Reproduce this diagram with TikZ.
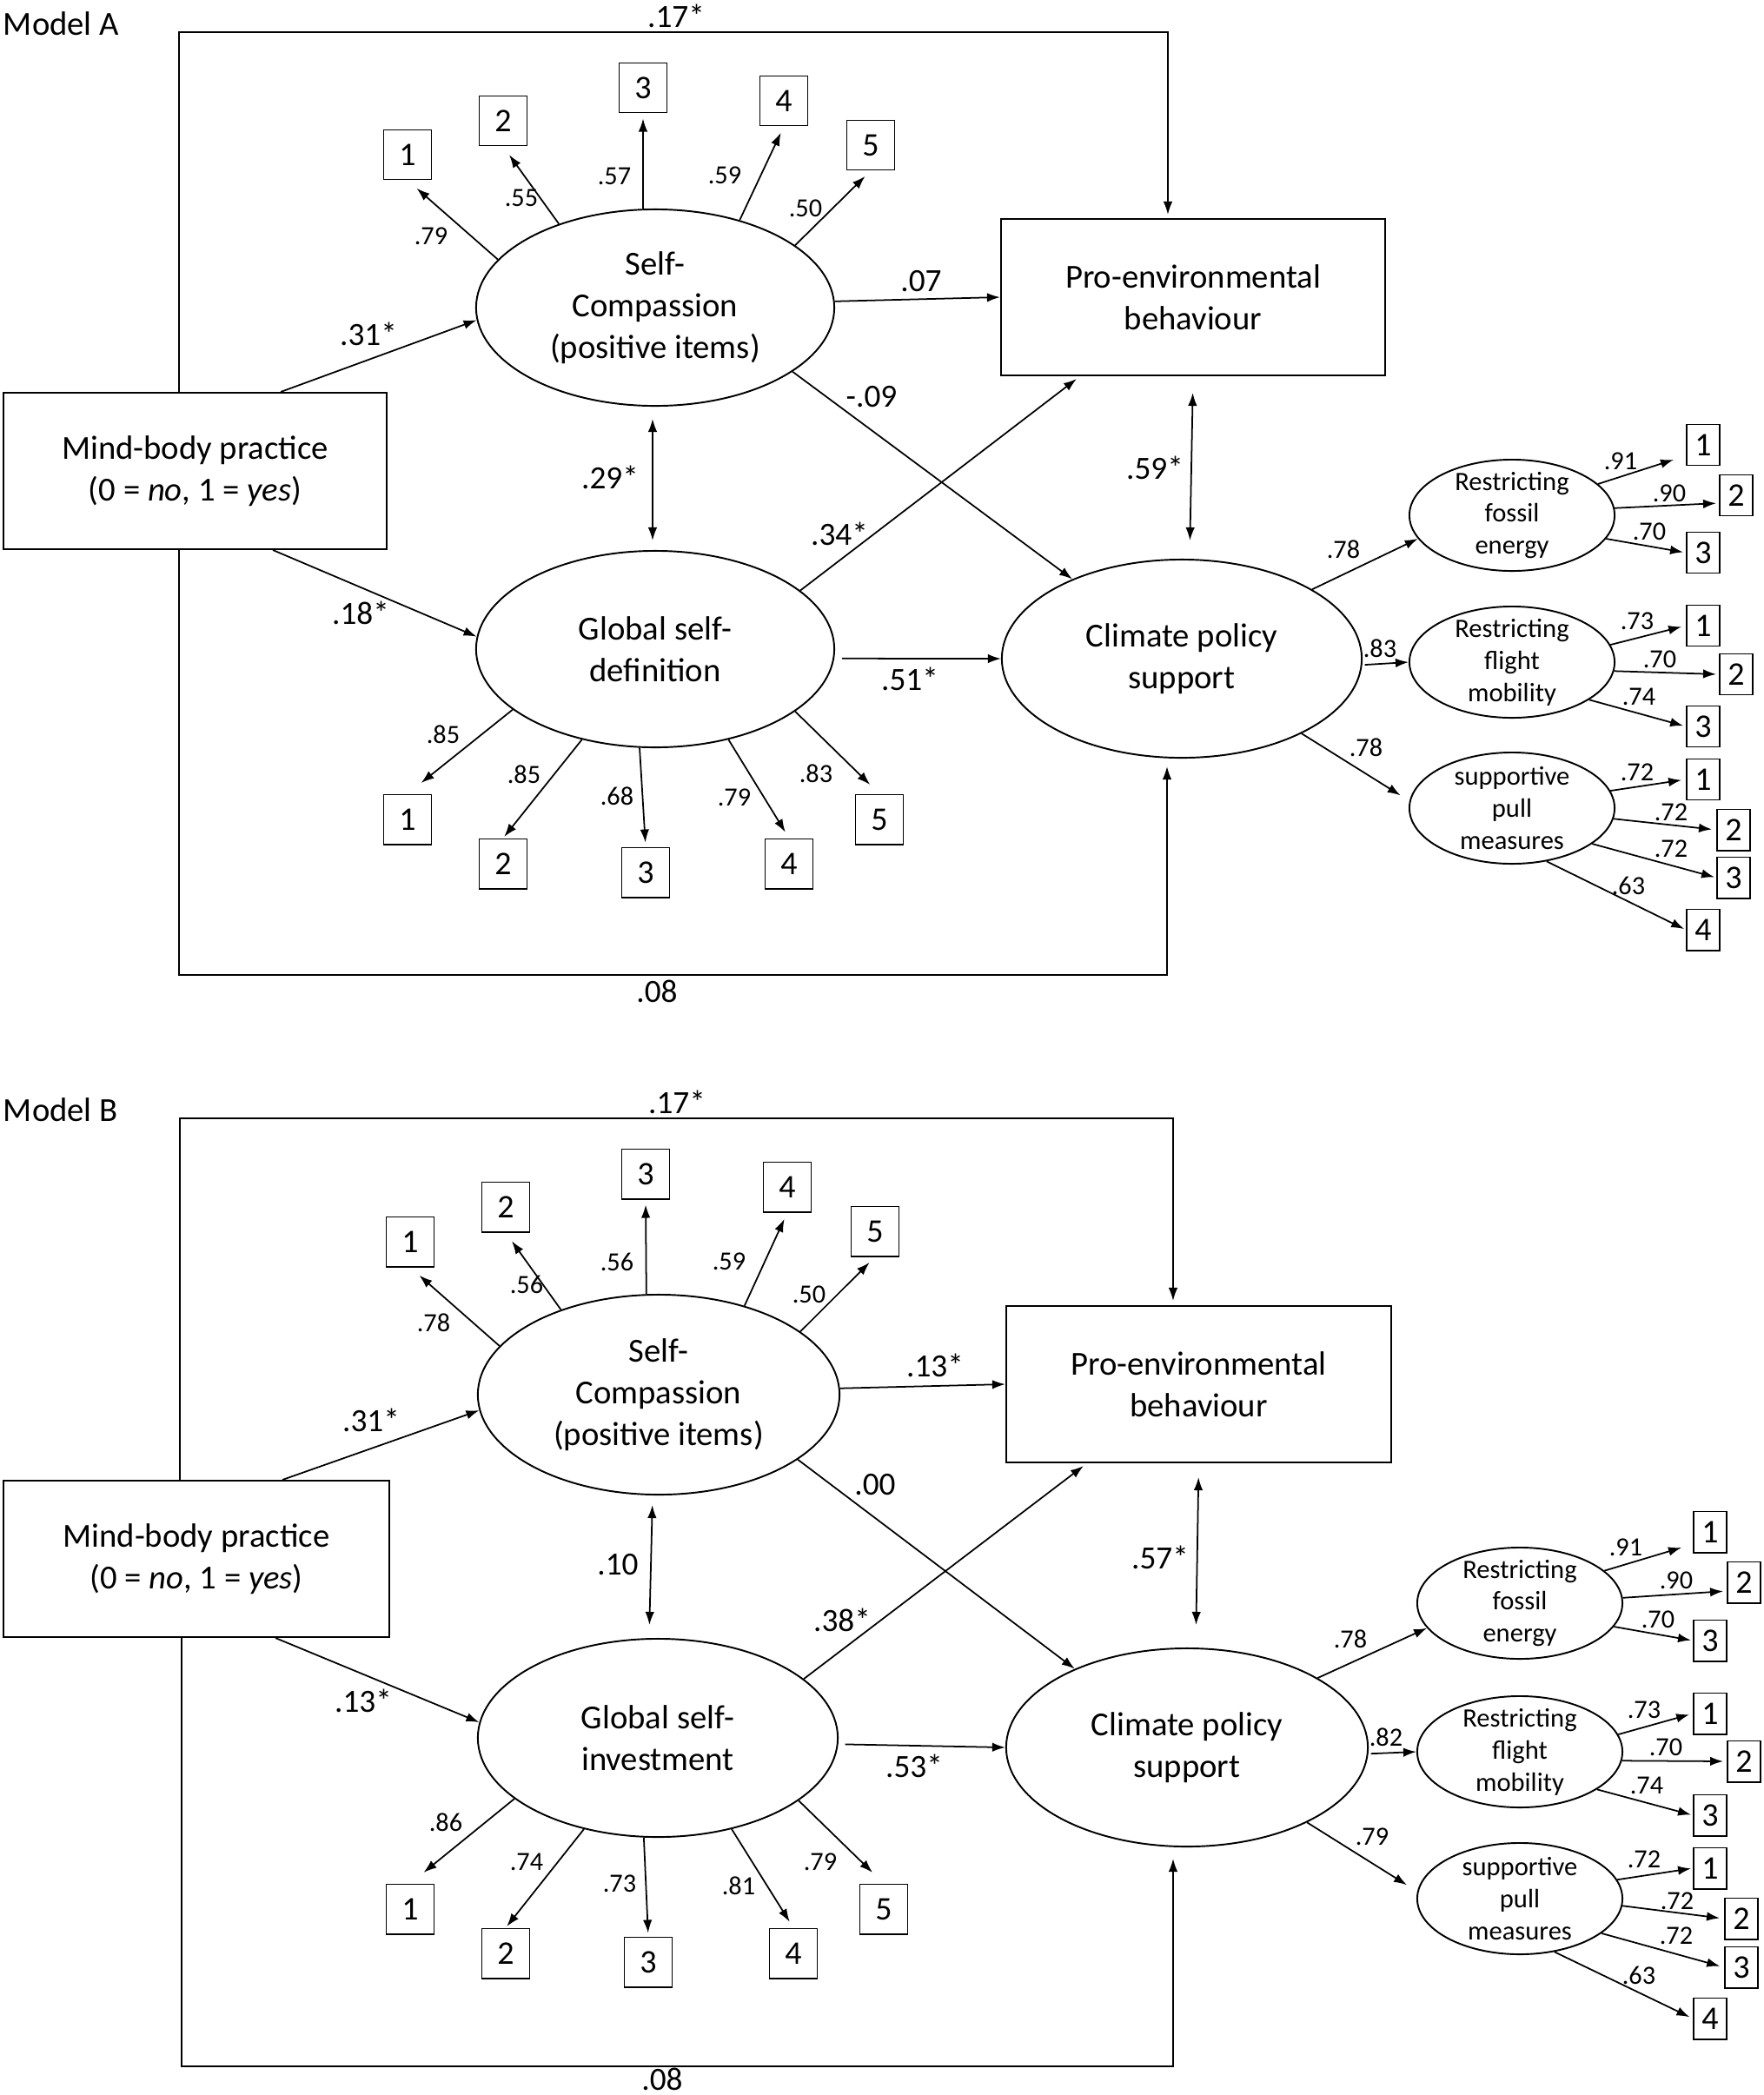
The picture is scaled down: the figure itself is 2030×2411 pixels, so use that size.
\documentclass[tikz,border=0pt]{standalone}
\usepackage{fontspec}
\setmainfont{Carlito}
\usetikzlibrary{arrows.meta,shapes.geometric,calc}
\newcommand{\fntmain}{\fontsize{11}{13.7}\selectfont}
\newcommand{\fntpath}{\fontsize{10.6}{12}\selectfont}
\newcommand{\fntload}{\fontsize{8.6}{10}\selectfont}
\newcommand{\fntitem}{\fontsize{10.8}{12}\selectfont}
\newcommand{\fntsub}{\fontsize{8.7}{10.5}\selectfont}
\begin{document}
\begin{tikzpicture}[x=0.01cm,y=-0.01cm,line width=0.55pt,
  conn/.style={-{Latex[length=1.5mm,width=1.05mm]},line width=0.5pt},
  dconn/.style={{Latex[length=1.5mm,width=1.05mm]}-{Latex[length=1.5mm,width=1.05mm]},line width=0.5pt},
  bigbox/.style={draw,rectangle,inner sep=0pt,align=center,font=\fntmain},
  latent/.style={draw,ellipse,inner sep=0pt,align=center,font=\fntmain},
  slat/.style={draw,ellipse,inner sep=-0.12cm,align=center,font=\fntsub,minimum width=2.36cm,minimum height=1.28cm},
  itm/.style={draw,rectangle,inner sep=0pt,minimum width=0.55cm,minimum height=0.57cm,font=\fntitem},
  sitm/.style={draw,rectangle,inner sep=0pt,minimum width=0.38cm,minimum height=0.47cm,font=\fntitem},
  plab/.style={inner sep=0pt,font=\fntpath},
  llab/.style={inner sep=0pt,font=\fntload},
  title/.style={inner sep=0pt,anchor=west,font=\fntmain}]
\useasboundingbox (0,0) rectangle (2030,2411);

% ================= MODEL A =================
\node[title] (ma) at (3,27) {Model A};
\node[bigbox,minimum width=4.41cm,minimum height=1.80cm] (a-mb) at (224.5,542) {Mind-body practice\\(0 = \textit{no}, 1 = \textit{yes})};
\node[latent,minimum width=4.12cm,minimum height=2.26cm] (a-sc) at (754,354) {Self-\\Compassion\\(positive items)};
\node[latent,minimum width=4.12cm,minimum height=2.26cm] (a-gd) at (754,747) {Global self-\\definition};
\node[bigbox,minimum width=4.42cm,minimum height=1.80cm] (a-peb) at (1373,342) {Pro-environmental\\behaviour};
\node[latent,minimum width=4.14cm,minimum height=2.28cm] (a-cps) at (1360,758) {Climate policy\\support};
\node[slat] (a-rfe) at (1740,593) {Restricting\\fossil\\energy};
\node[slat] (a-rfm) at (1740,762) {Restricting\\flight\\mobility};
\node[slat] (a-spm) at (1740,930) {supportive\\pull\\measures};

\node[itm] (a-s1) at (469,178) {1};
\node[itm] (a-s2) at (579,139) {2};
\node[itm] (a-s3) at (740,101) {3};
\node[itm] (a-s4) at (902,116) {4};
\node[itm] (a-s5) at (1002,167) {5};
\node[itm] (a-g1) at (469,943) {1};
\node[itm] (a-g2) at (579,994) {2};
\node[itm] (a-g3) at (743,1004) {3};
\node[itm] (a-g4) at (908,994) {4};
\node[itm] (a-g5) at (1012,943) {5};

\node[sitm] (a-r1) at (1960,512) {1};
\node[sitm] (a-r2) at (1998,570) {2};
\node[sitm] (a-r3) at (1960,636) {3};
\node[sitm] (a-m1) at (1960,720) {1};
\node[sitm] (a-m2) at (1998,776) {2};
\node[sitm] (a-m3) at (1960,836) {3};
\node[sitm] (a-p1) at (1960,897) {1};
\node[sitm] (a-p2) at (1995,955) {2};
\node[sitm] (a-p3) at (1995,1010) {3};
\node[sitm] (a-p4) at (1960,1070) {4};

% structural paths A
\draw[conn] ([xshift=0.985cm]a-mb.north) -- (a-sc.184);
\draw[conn] ([xshift=0.895cm]a-mb.south) -- (a-gd.176);
\draw[conn,shorten >=0.04cm] ([xshift=-0.185cm]a-mb.north) -- ++(0,-414) -| ([xshift=-0.29cm]a-peb.north);
\draw[conn,shorten >=0.09cm] ([xshift=-0.185cm]a-mb.south) -- ++(0,489) -| ([xshift=-0.17cm]a-cps.south);
\draw[conn] (a-sc.2) -- (a-peb.west);
\draw[dconn,shorten <=0.14cm,shorten >=0.11cm] ([xshift=-0.03cm]a-sc.south) -- ([xshift=-0.03cm]a-gd.north);
\draw[conn] (a-sc.335) -- (a-cps.144);
\draw[conn,shorten >=0.05cm] (a-gd.22) -- ([xshift=-1.3cm]a-peb.south);
\draw[conn,shorten <=0.09cm] (a-gd.-3) -- (a-cps.west);
\draw[dconn,shorten <=0.19cm,shorten >=0.21cm] (a-peb.south) -- ([xshift=0.09cm]a-cps.north);

% loadings A (left)
\draw[conn,shorten >=0.14cm] (a-sc.163) -- (a-s1.south);
\draw[conn,shorten >=0.12cm] (a-sc.139) -- (a-s2.south);
\draw[conn,shorten >=0.06cm] (a-sc.97) -- (a-s3.south);
\draw[conn,shorten >=0.08cm] (a-sc.46) -- (a-s4.south);
\draw[conn,shorten >=0.09cm] (a-sc.24) -- (a-s5.south);
\draw[conn,shorten >=0.2cm] (a-gd.203) -- (a-g1.north);
\draw[conn,shorten >=0.02cm] (a-gd.231) -- (a-g2.north);
\draw[conn,shorten >=0.05cm] (a-gd.261) -- (a-g3.north);
\draw[conn,shorten >=0.08cm] (a-gd.309) -- (a-g4.north);
\draw[conn,shorten >=0.15cm] (a-gd.336) -- (a-g5.north);

% second order A
\draw[conn] (a-cps.28) -- (a-rfe.194);
\draw[conn,shorten <=0.03cm] (a-cps.-2) -- (a-rfm.west);
\draw[conn,shorten >=0.12cm] (a-cps.-32) -- (a-spm.176);
\draw[conn] (a-rfe.20) -- ($(a-r1.west)+(-14,17)$);
\draw[conn,shorten >=0.03cm] (a-rfe.4) -- ([yshift=-0.09cm]a-r2.west);
\draw[conn,shorten >=0.03cm] (a-rfe.-14) -- (a-r3.west);
\draw[conn,shorten >=0.05cm] (a-rfm.10) -- (a-m1.west);
\draw[conn,shorten >=0.03cm] (a-rfm.-5) -- (a-m2.west);
\draw[conn,shorten >=0.03cm] (a-rfm.-26) -- (a-m3.west);
\draw[conn,shorten >=0.05cm] (a-spm.10) -- (a-p1.west);
\draw[conn,shorten >=0.05cm] (a-spm.-6) -- (a-p2.west);
\draw[conn,shorten >=0.02cm] (a-spm.-24) -- (a-p3.west);
\draw[conn,shorten >=0.02cm] (a-spm.-57) -- (a-p4.west);

% labels A
\node[plab] (a-t17) at (778,18) {.17*};
\node[plab] (a-t31) at (424,384) {.31*};
\node[plab] (a-t18) at (415,705) {.18*};
\node[plab] (a-t29) at (702,549) {.29*};
\node[plab] (a-t07) at (1060,324) {.07};
\node[plab] (a-t09) at (1003,457) {-.09};
\node[plab] (a-t34) at (966,614) {.34*};
\node[plab] (a-t51) at (1047,781) {.51*};
\node[plab] (a-t59) at (1329,538) {.59*};
\node[plab] (a-t08) at (756,1141) {.08};

\node[llab] (a-ls1) at (496,272) {.79};
\node[llab] (a-ls2) at (600,228) {.55};
\node[llab] (a-ls3) at (707,203) {.57};
\node[llab] (a-ls4) at (834,202) {.59};
\node[llab] (a-ls5) at (927,240) {.50};
\node[llab] (a-lg1) at (510,845) {.85};
\node[llab] (a-lg2) at (603,891) {.85};
\node[llab] (a-lg3) at (710,916) {.68};
\node[llab] (a-lg4) at (845,918) {.79};
\node[llab] (a-lg5) at (939,890) {.83};
\node[llab] (a-lc1) at (1546,632) {.78};
\node[llab] (a-lc2) at (1588,746) {.83};
\node[llab] (a-lc3) at (1572,860) {.78};
\node[llab] (a-lr1) at (1865,531) {.91};
\node[llab] (a-lr2) at (1921,568) {.90};
\node[llab] (a-lr3) at (1898,612) {.70};
\node[llab] (a-lm1) at (1884,715) {.73};
\node[llab] (a-lm2) at (1910,759) {.70};
\node[llab] (a-lm3) at (1886,802) {.74};
\node[llab] (a-lp1) at (1884,889) {.72};
\node[llab] (a-lp2) at (1923,935) {.72};
\node[llab] (a-lp3) at (1923,977) {.72};
\node[llab] (a-lp4) at (1874,1019) {.63};

% ================= MODEL B =================
\node[title] (mb) at (3,1277) {Model B};
\node[bigbox,minimum width=4.44cm,minimum height=1.80cm] (b-mb) at (226,1794) {Mind-body practice\\(0 = \textit{no}, 1 = \textit{yes})};
\node[latent,minimum width=4.16cm,minimum height=2.30cm] (b-sc) at (758,1605) {Self-\\Compassion\\(positive items)};
\node[latent,minimum width=4.14cm,minimum height=2.28cm] (b-gi) at (757,2000) {Global self-\\investment};
\node[bigbox,minimum width=4.43cm,minimum height=1.80cm] (b-peb) at (1379.5,1593) {Pro-environmental\\behaviour};
\node[latent,minimum width=4.16cm,minimum height=2.28cm] (b-cps) at (1366,2011) {Climate policy\\support};
\node[slat] (b-rfe) at (1749,1845) {Restricting\\fossil\\energy};
\node[slat] (b-rfm) at (1749,2016) {Restricting\\flight\\mobility};
\node[slat] (b-spm) at (1749,2185) {supportive\\pull\\measures};

\node[itm] (b-s1) at (472,1429) {1};
\node[itm] (b-s2) at (582,1389) {2};
\node[itm] (b-s3) at (743,1351) {3};
\node[itm] (b-s4) at (906,1366) {4};
\node[itm] (b-s5) at (1007,1417) {5};
\node[itm] (b-g1) at (472,2197) {1};
\node[itm] (b-g2) at (582,2248) {2};
\node[itm] (b-g3) at (746,2258) {3};
\node[itm] (b-g4) at (913,2248) {4};
\node[itm] (b-g5) at (1017,2197) {5};

\node[sitm] (b-r1) at (1968,1763) {1};
\node[sitm] (b-r2) at (2007,1821) {2};
\node[sitm] (b-r3) at (1968,1888) {3};
\node[sitm] (b-m1) at (1968,1972) {1};
\node[sitm] (b-m2) at (2007,2027) {2};
\node[sitm] (b-m3) at (1968,2089) {3};
\node[sitm] (b-p1) at (1968,2150) {1};
\node[sitm] (b-p2) at (2004,2208) {2};
\node[sitm] (b-p3) at (2004,2264) {3};
\node[sitm] (b-p4) at (1968,2323) {4};

% structural paths B
\draw[conn] ([xshift=0.99cm]b-mb.north) -- (b-sc.185);
\draw[conn] ([xshift=0.91cm]b-mb.south) -- (b-gi.175);
\draw[conn,shorten >=0.05cm] ([xshift=-0.19cm]b-mb.north) -- ++(0,-416) -| ([xshift=-0.295cm]b-peb.north);
\draw[conn,shorten >=0.13cm] ([xshift=-0.17cm]b-mb.south) -- ++(0,493) -| ([xshift=-0.16cm]b-cps.south);
\draw[conn] (b-sc.2) -- (b-peb.west);
\draw[dconn,shorten <=0.11cm,shorten >=0.15cm] ([xshift=-0.07cm]b-sc.south) -- ([xshift=-0.1cm]b-gi.north);
\draw[conn] (b-sc.335) -- (b-cps.145);
\draw[conn,shorten >=0.05cm] (b-gi.22) -- ([xshift=-1.285cm]b-peb.south);
\draw[conn,shorten <=0.08cm] (b-gi.-2) -- (b-cps.west);
\draw[dconn,shorten <=0.16cm,shorten >=0.26cm] (b-peb.south) -- ([xshift=0.1cm]b-cps.north);

% loadings B (left)
\draw[conn,shorten >=0.14cm] (b-sc.163) -- (b-s1.south);
\draw[conn,shorten >=0.12cm] (b-sc.139) -- (b-s2.south);
\draw[conn,shorten >=0.06cm] (b-sc.97) -- (b-s3.south);
\draw[conn,shorten >=0.08cm] (b-sc.46) -- (b-s4.south);
\draw[conn,shorten >=0.09cm] (b-sc.24) -- (b-s5.south);
\draw[conn,shorten >=0.2cm] (b-gi.203) -- (b-g1.north);
\draw[conn,shorten >=0.02cm] (b-gi.231) -- (b-g2.north);
\draw[conn,shorten >=0.04cm] (b-gi.262) -- (b-g3.north);
\draw[conn,shorten >=0.08cm] (b-gi.309) -- (b-g4.north);
\draw[conn,shorten >=0.18cm] (b-gi.336) -- (b-g5.north);

% second order B
\draw[conn] (b-cps.28) -- (b-rfe.195);
\draw[conn,shorten <=0.03cm] (b-cps.-2) -- (b-rfm.west);
\draw[conn,shorten >=0.14cm] (b-cps.-32) -- (b-spm.176);
\draw[conn] (b-rfe.21) -- ($(b-r1.west)+(-13,18)$);
\draw[conn,shorten >=0.04cm] (b-rfe.3) -- ([yshift=-0.1cm]b-r2.west);
\draw[conn,shorten >=0.02cm] (b-rfe.-14) -- (b-r3.west);
\draw[conn,shorten >=0.04cm] (b-rfm.10) -- (b-m1.west);
\draw[conn,shorten >=0.04cm] (b-rfm.-5) -- (b-m2.west);
\draw[conn,shorten >=0.02cm] (b-rfm.-26) -- (b-m3.west);
\draw[conn,shorten >=0.02cm] (b-spm.11) -- (b-p1.west);
\draw[conn,shorten >=0.05cm] (b-spm.-4) -- (b-p2.west);
\draw[conn,shorten >=0.05cm] (b-spm.-23) -- (b-p3.west);
\draw[conn,shorten >=0.04cm] (b-spm.-57) -- (b-p4.west);

% labels B
\node[plab] (b-t17) at (779,1268) {.17*};
\node[plab] (b-t31) at (427,1634) {.31*};
\node[plab] (b-t13a) at (418,1957) {.13*};
\node[plab] (b-t10) at (711,1801) {.10};
\node[plab] (b-t13b) at (1076,1571) {.13*};
\node[plab] (b-t00) at (1007,1709) {.00};
\node[plab] (b-t38) at (969,1864) {.38*};
\node[plab] (b-t53) at (1052,2032) {.53*};
\node[plab] (b-t57) at (1335,1792) {.57*};
\node[plab] (b-t08) at (762,2393) {.08};

\node[llab] (b-ls1) at (499,1522) {.78};
\node[llab] (b-ls2) at (606,1478) {.56};
\node[llab] (b-ls3) at (710,1452) {.56};
\node[llab] (b-ls4) at (839,1452) {.59};
\node[llab] (b-ls5) at (931,1490) {.50};
\node[llab] (b-lg1) at (513,2097) {.86};
\node[llab] (b-lg2) at (606,2143) {.74};
\node[llab] (b-lg3) at (713,2168) {.73};
\node[llab] (b-lg4) at (850,2170) {.81};
\node[llab] (b-lg5) at (944,2143) {.79};
\node[llab] (b-lc1) at (1554,1886) {.78};
\node[llab] (b-lc2) at (1595,1999) {.82};
\node[llab] (b-lc3) at (1579,2114) {.79};
\node[llab] (b-lr1) at (1871,1781) {.91};
\node[llab] (b-lr2) at (1929,1819) {.90};
\node[llab] (b-lr3) at (1908,1864) {.70};
\node[llab] (b-lm1) at (1892,1968) {.73};
\node[llab] (b-lm2) at (1917,2011) {.70};
\node[llab] (b-lm3) at (1895,2055) {.74};
\node[llab] (b-lp1) at (1892,2140) {.72};
\node[llab] (b-lp2) at (1930,2188) {.72};
\node[llab] (b-lp3) at (1929,2228) {.72};
\node[llab] (b-lp4) at (1886,2273) {.63};
\end{tikzpicture}
\end{document}
